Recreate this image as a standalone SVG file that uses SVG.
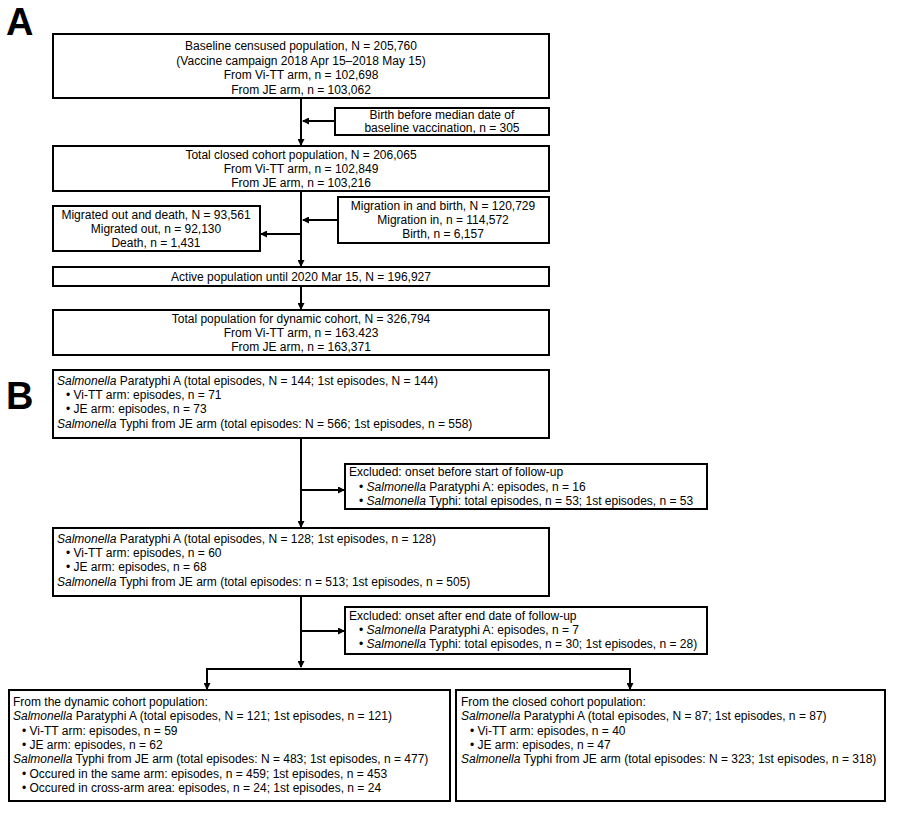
<svg xmlns="http://www.w3.org/2000/svg" width="900" height="815" viewBox="0 0 900 815">
<style>
.box{fill:#fff;stroke:#000;stroke-width:2}
.t{font-family:"Liberation Sans",Arial,sans-serif;font-size:12px;fill:#000}
.c{text-anchor:middle}
.i{font-style:italic}
.lbl{font-family:"Liberation Sans",Arial,sans-serif;font-size:38px;font-weight:bold;fill:#000}
.ln{stroke:#000;stroke-width:2;fill:none}
</style>
<defs>
<marker id="ah" markerWidth="7" markerHeight="7" refX="6" refY="3.5" orient="auto" markerUnits="userSpaceOnUse">
<path d="M0,0 L7,3.5 L0,7 Z" fill="#000"/>
</marker>
</defs>
<rect width="900" height="815" fill="#fff"/>
<text class="lbl" x="6" y="35">A</text>
<text class="lbl" x="6" y="409">B</text>

<g id="connectors">
<line class="ln" x1="301" y1="98" x2="301" y2="145" marker-end="url(#ah)"/>
<line class="ln" x1="335" y1="121" x2="303" y2="121" marker-end="url(#ah)"/>
<line class="ln" x1="301" y1="191" x2="301" y2="266" marker-end="url(#ah)"/>
<line class="ln" x1="338" y1="220" x2="303" y2="220" marker-end="url(#ah)"/>
<line class="ln" x1="301" y1="234" x2="261" y2="234" marker-end="url(#ah)"/>
<line class="ln" x1="301" y1="286" x2="301" y2="309" marker-end="url(#ah)"/>
<line class="ln" x1="301" y1="438" x2="301" y2="527" marker-end="url(#ah)"/>
<line class="ln" x1="301" y1="490" x2="344" y2="490" marker-end="url(#ah)"/>
<line class="ln" x1="301" y1="596" x2="301" y2="667" marker-end="url(#ah)"/>
<line class="ln" x1="301" y1="631" x2="344" y2="631" marker-end="url(#ah)"/>
<polyline class="ln" points="207,689 207,669 630,669 630,689"/>
<line class="ln" x1="207" y1="675" x2="207" y2="689" marker-end="url(#ah)"/>
<line class="ln" x1="630" y1="675" x2="630" y2="689" marker-end="url(#ah)"/>
</g>

<g id="a1">
<rect class="box" x="53" y="34" width="496" height="64"/>
<text class="t c" x="301" y="50">Baseline censused population,  N = 205,760</text>
<text class="t c" x="301" y="64.5">(Vaccine campaign 2018 Apr 15–2018 May 15)</text>
<text class="t c" x="301" y="79">From Vi-TT arm, n = 102,698</text>
<text class="t c" x="301" y="93.5">From JE arm, n = 103,062</text>
</g>
<g id="a_birth">
<rect class="box" x="335" y="108" width="214" height="27"/>
<text class="t c" x="442" y="119">Birth before median date of</text>
<text class="t c" x="442" y="132">baseline vaccination, n = 305</text>
</g>
<g id="a2">
<rect class="box" x="53" y="146" width="496" height="45"/>
<text class="t c" x="301" y="159">Total closed cohort population, N = 206,065</text>
<text class="t c" x="301" y="173">From Vi-TT arm, n = 102,849</text>
<text class="t c" x="301" y="187">From JE arm, n = 103,216</text>
</g>
<g id="a_migin">
<rect class="box" x="338" y="197" width="211" height="46"/>
<text class="t c" x="443" y="210">Migration in and birth, N = 120,729</text>
<text class="t c" x="443" y="224">Migration in, n = 114,572</text>
<text class="t c" x="443" y="238">Birth, n = 6,157</text>
</g>
<g id="a_migout">
<rect class="box" x="53" y="206" width="207" height="45"/>
<text class="t c" x="156" y="219">Migrated out and death, N = 93,561</text>
<text class="t c" x="156" y="233">Migrated out, n = 92,130</text>
<text class="t c" x="156" y="247">Death, n = 1,431</text>
</g>
<g id="a3">
<rect class="box" x="53" y="267" width="496" height="19"/>
<text class="t c" x="301" y="281">Active population until 2020 Mar 15, N = 196,927</text>
</g>
<g id="a4">
<rect class="box" x="53" y="310" width="496" height="45"/>
<text class="t c" x="301" y="323">Total population for dynamic cohort, N = 326,794</text>
<text class="t c" x="301" y="337">From Vi-TT arm, n = 163.423</text>
<text class="t c" x="301" y="351">From JE arm, n = 163,371</text>
</g>

<g id="b1">
<rect class="box" x="53" y="370" width="496" height="68"/>
<text class="t" x="57" y="385"><tspan class="i">Salmonella</tspan>  Paratyphi A (total episodes, N = 144; 1st episodes, N = 144)</text>
<text class="t" x="66" y="399">• Vi-TT arm: episodes, n = 71</text>
<text class="t" x="66" y="413">• JE arm: episodes, n = 73</text>
<text class="t" x="57" y="428"><tspan class="i">Salmonella</tspan> Typhi from JE arm (total episodes: N = 566; 1st episodes, n = 558)</text>
</g>
<g id="b_ex1">
<rect class="box" x="345" y="464" width="362" height="45"/>
<text class="t" x="349" y="476">Excluded: onset before start of follow-up</text>
<text class="t" x="359" y="491">• <tspan class="i">Salmonella</tspan>  Paratyphi A: episodes, n = 16</text>
<text class="t" x="359" y="505">• <tspan class="i">Salmonella</tspan> Typhi: total episodes, n = 53; 1st episodes, n = 53</text>
</g>
<g id="b2">
<rect class="box" x="53" y="528" width="496" height="68"/>
<text class="t" x="57" y="543"><tspan class="i">Salmonella</tspan>  Paratyphi A (total episodes, N = 128; 1st episodes, n = 128)</text>
<text class="t" x="66" y="557">• Vi-TT arm: episodes, n = 60</text>
<text class="t" x="66" y="571">• JE arm: episodes, n = 68</text>
<text class="t" x="57" y="586"><tspan class="i">Salmonella</tspan> Typhi from JE arm (total episodes: n = 513; 1st episodes, n = 505)</text>
</g>
<g id="b_ex2">
<rect class="box" x="345" y="607" width="362" height="47"/>
<text class="t" x="349" y="620">Excluded: onset after end date of follow-up</text>
<text class="t" x="359" y="634">• <tspan class="i">Salmonella</tspan>  Paratyphi A: episodes, n = 7</text>
<text class="t" x="359" y="648">• <tspan class="i">Salmonella</tspan> Typhi: total episodes, n = 30; 1st episodes, n = 28)</text>
</g>
<g id="b_dynamic">
<rect class="box" x="9" y="690" width="441" height="111"/>
<text class="t" x="13" y="706">From the dynamic cohort population:</text>
<text class="t" x="13" y="720"><tspan class="i">Salmonella</tspan>  Paratyphi A (total episodes, N = 121; 1st episodes, n = 121)</text>
<text class="t" x="22" y="735">• Vi-TT arm: episodes, n = 59</text>
<text class="t" x="22" y="749">• JE arm: episodes, n = 62</text>
<text class="t" x="13" y="763"><tspan class="i">Salmonella</tspan> Typhi from JE arm (total episodes: N = 483; 1st episodes, n = 477)</text>
<text class="t" x="22" y="778">• Occured in the same arm: episodes, n = 459; 1st episodes, n = 453</text>
<text class="t" x="22" y="792">• Occured in cross-arm area: episodes, n = 24; 1st episodes, n = 24</text>
</g>
<g id="b_closed">
<rect class="box" x="456" y="690" width="429" height="111"/>
<text class="t" x="461" y="706">From the closed cohort population:</text>
<text class="t" x="461" y="720"><tspan class="i">Salmonella</tspan>  Paratyphi A (total episodes, N = 87; 1st episodes, n = 87)</text>
<text class="t" x="470" y="735">• Vi-TT arm: episodes, n = 40</text>
<text class="t" x="470" y="749">• JE arm: episodes, n = 47</text>
<text class="t" x="461" y="763"><tspan class="i">Salmonella</tspan> Typhi from JE arm (total episodes: N = 323; 1st episodes, n = 318)</text>
</g>
</svg>
